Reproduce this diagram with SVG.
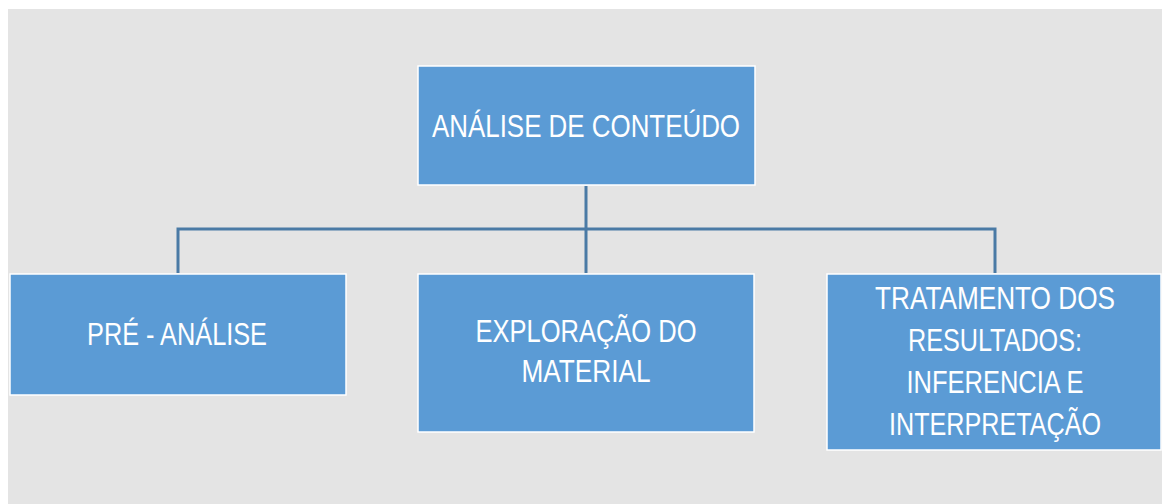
<svg xmlns="http://www.w3.org/2000/svg" width="1162" height="504" viewBox="0 0 1162 504">
<style>
.box{fill:#5b9bd5;stroke:#ffffff;stroke-width:1.5;}
.lbl{font-family:"Liberation Sans",Arial,sans-serif;font-size:31px;fill:#ffffff;text-anchor:middle;}
.con{stroke:#4a7aa5;stroke-width:3;fill:none;}
</style>
<rect x="0" y="0" width="1162" height="504" fill="#ffffff"/>
<rect x="8" y="9" width="1154" height="495" fill="#e4e4e4"/>
<g id="connectors">
<path class="con" d="M586 186 V273"/>
<path class="con" d="M178 273 V229 H995 V273"/>
</g>
<g id="node-root">
<rect class="box" x="418" y="66" width="337" height="119"/>
<text class="lbl" x="586" y="137" textLength="308" lengthAdjust="spacingAndGlyphs">ANÁLISE DE CONTEÚDO</text>
</g>
<g id="node-pre">
<rect class="box" x="10" y="274" width="336" height="121"/>
<text class="lbl" x="177" y="345" textLength="180" lengthAdjust="spacingAndGlyphs">PRÉ - ANÁLISE</text>
</g>
<g id="node-exploracao">
<rect class="box" x="418" y="274" width="336" height="158"/>
<text class="lbl" x="586" y="342" textLength="221" lengthAdjust="spacingAndGlyphs">EXPLORAÇÃO DO</text>
<text class="lbl" x="586" y="382" textLength="129" lengthAdjust="spacingAndGlyphs">MATERIAL</text>
</g>
<g id="node-tratamento">
<rect class="box" x="827" y="274" width="334" height="176"/>
<text class="lbl" x="995" y="309" textLength="240" lengthAdjust="spacingAndGlyphs">TRATAMENTO DOS</text>
<text class="lbl" x="995" y="351" textLength="174" lengthAdjust="spacingAndGlyphs">RESULTADOS:</text>
<text class="lbl" x="995" y="393" textLength="177" lengthAdjust="spacingAndGlyphs">INFERENCIA E</text>
<text class="lbl" x="995" y="435" textLength="212" lengthAdjust="spacingAndGlyphs">INTERPRETAÇÃO</text>
</g>
</svg>
